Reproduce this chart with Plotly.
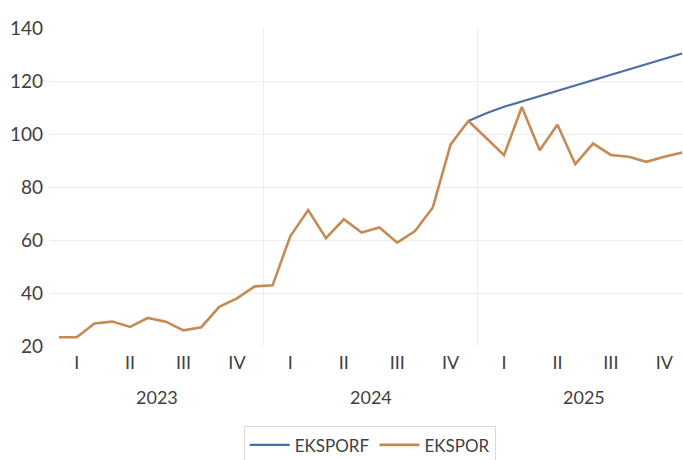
import plotly.graph_objects as go

# Monthly index, Jan 2023 .. Dec 2025
months = list(range(36))
years = ["2023", "2024", "2025"]
quarters = ["I", "II", "III", "IV"]

# Actual exports (EKSPOR)
ekspor = [
    23.3, 23.3, 28.5, 29.2, 27.2, 30.6, 29.2, 25.9, 27.1, 34.8, 38.0, 42.5,
    42.9, 61.5, 71.3, 60.7, 67.8, 62.8, 64.7, 59.0, 63.4, 72.3, 96.1, 104.9,
    98.5, 92.0, 110.2, 93.9, 103.5, 88.6, 96.4, 92.1, 91.4, 89.5, 91.4, 93.0,
]

# Forecast (EKSPORF), from Dec 2024 onward
eksporf_months = list(range(23, 36))
eksporf = [104.9, 107.8, 110.3, 112.3, 114.4, 116.5, 118.4, 120.4, 122.4,
           124.4, 126.4, 128.5, 130.4]

font_family = "Lato, 'Open Sans', sans-serif"
text_color = "#404040"

fig = go.Figure()
fig.add_trace(go.Scatter(
    x=eksporf_months, y=eksporf, mode="lines", name="EKSPORF",
    line=dict(color="#4A6FA5", width=2.2),
))
fig.add_trace(go.Scatter(
    x=months, y=ekspor, mode="lines", name="EKSPOR",
    line=dict(color="#C48B55", width=2.6),
))

# Quarter labels sit on the middle month of each quarter
q_vals = [y * 12 + q * 3 + 1 for y in range(len(years)) for q in range(4)]
q_text = [quarters[q] for _ in years for q in range(4)]

fig.update_xaxes(
    range=[-0.5, 35.05],
    tickvals=q_vals, ticktext=q_text,
    showgrid=False, zeroline=False, showline=False, ticks="",
    ticklabelstandoff=4,
    tickfont=dict(family=font_family, size=18, color=text_color),
    minor=dict(tickvals=[11.5, 23.5], showgrid=True, gridcolor="#EDEDED",
               gridwidth=1, ticks=""),
    fixedrange=True,
)
fig.update_yaxes(
    range=[20, 140], tickvals=[20, 40, 60, 80, 100, 120, 140],
    showgrid=True, gridcolor="#EDEDED", gridwidth=1,
    zeroline=False, showline=False, ticks="",
    ticklabelstandoff=6,
    tickfont=dict(family=font_family, size=19, color=text_color),
    fixedrange=True,
)

# Year labels centred under each year
for i, yr in enumerate(years):
    fig.add_annotation(
        x=i * 12 + 5.5, y=0, xref="x", yref="paper",
        yanchor="middle", yshift=-51, showarrow=False, text=yr,
        font=dict(family=font_family, size=18, color=text_color),
    )

fig.update_layout(
    width=683, height=460,
    margin=dict(l=50, r=0, t=27.5, b=113.5, autoexpand=False),
    paper_bgcolor="white", plot_bgcolor="white",
    showlegend=True,
    legend=dict(
        orientation="h", x=0.505, xanchor="center", y=-0.2526, yanchor="top",
        bordercolor="#D9D9D9", borderwidth=1,
        font=dict(family=font_family, size=17, color=text_color),
        itemwidth=40,
    ),
)

fig.write_html("out.html")
